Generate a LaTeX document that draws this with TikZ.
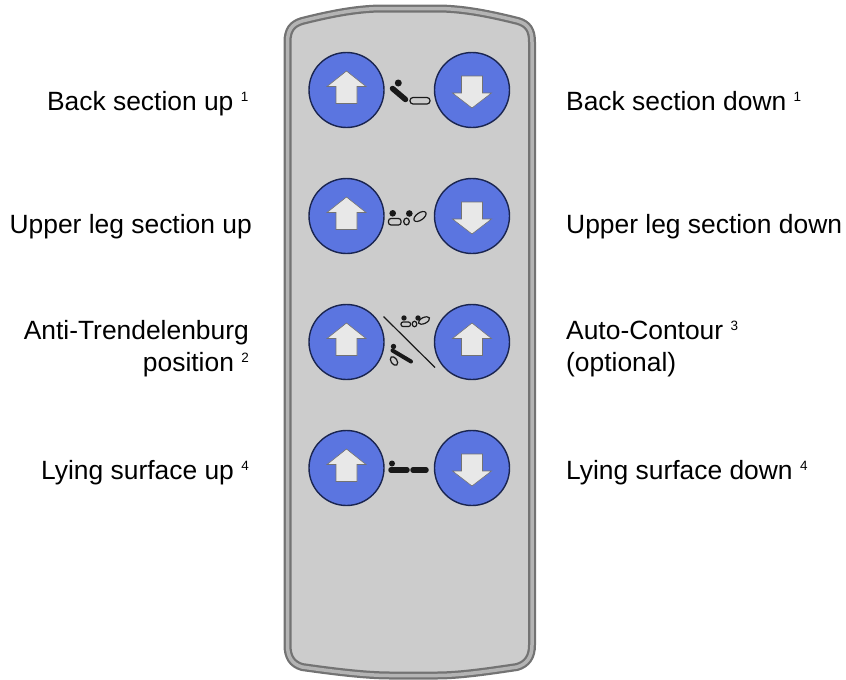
\documentclass[tikz,border=0pt]{standalone}
\usepackage{fontspec}
\setmainfont{Liberation Sans}
\definecolor{shellbody}{HTML}{CCCCCC}
\definecolor{shelldark}{HTML}{737373}
\definecolor{shelllight}{HTML}{B4B4B4}
\definecolor{knobblue}{HTML}{5B75E0}
\definecolor{knobedge}{HTML}{1A2550}
\definecolor{arrowfill}{HTML}{E8E8E8}
\tikzset{
  knob/.style={circle, draw=knobedge, fill=knobblue, line width=1.4pt, minimum size=75pt, inner sep=0pt},
  arrowhead/.style={fill=arrowfill, draw=black!55, line width=0.6pt},
  tag/.style={font=\fontsize{26.4pt}{31.8pt}\selectfont, text=black, inner sep=0pt},
  iconbar/.style={line width=5.5pt, line cap=round, black!90},
  iconring/.style={draw=black!90, fill=shellbody, line width=1.2pt},
}
\newcommand{\notemark}[1]{\raisebox{9pt}{\fontsize{13.5pt}{13.5pt}\selectfont #1}}
\newcommand{\shellpath}{(287.5,42) .. controls (287.5,30) and (292,24) .. (302,21)
  .. controls (330,14) and (355,9) .. (380,8.5) -- (440,8.5)
  .. controls (465,9) and (490,14) .. (518,21)
  .. controls (528,24) and (532,30) .. (532,42)
  -- (532,645) .. controls (532,657) and (527,664) .. (517,667)
  .. controls (490,671) and (460,675.5) .. (437,675.5) -- (390,675.5)
  .. controls (365,675.5) and (330,671) .. (302,667)
  .. controls (292,664) and (287.5,657) .. (287.5,645) -- cycle}
\begin{document}
\begin{tikzpicture}[x=1pt,y=-1pt]
    \useasboundingbox (0,0) rectangle (846,680);

    % Housing
    \draw[shelldark, line width=8pt, fill=shellbody] \shellpath;
    \draw[shelllight, line width=3.5pt] \shellpath;

    % Buttons, one row per function
    \foreach \rowname/\rowy in {back/90, leg/216, tilt/342, lift/468} {
        \node[knob] (\rowname left) at (346.5,\rowy) {};
        \node[knob] (\rowname right) at (472,\rowy) {};
        \draw[arrowhead, shift={(346.5,\rowy)}] (0,-19) -- (19.5,-3.5) -- (10.5,-3.5) -- (10.5,13.5) -- (-10.5,13.5) -- (-10.5,-3.5) -- (-19.5,-3.5) -- cycle;
    }

    % Right column arrows
    \foreach \rowy in {90, 216, 468} {
        \draw[arrowhead, shift={(472,\rowy)}] (0,18) -- (19.5,3) -- (10.5,3) -- (10.5,-14) -- (-10.5,-14) -- (-10.5,3) -- (-19.5,3) -- cycle;
    }
    \draw[arrowhead, shift={(472,342)}] (0,-19) -- (19.5,-3.5) -- (10.5,-3.5) -- (10.5,13.5) -- (-10.5,13.5) -- (-10.5,-3.5) -- (-19.5,-3.5) -- cycle;

    % Icon, back section
    \fill[black!90] (398.3,83) circle (3.5);
    \draw[iconbar] (392.5,88.5) -- (405.5,99.5);
    \draw[iconring, rounded corners=3pt] (410,97.5) rectangle (430,104);

    % Icon, upper leg section
    \fill[black!90] (392.7,213.3) circle (3.3);
    \fill[black!90] (409.3,213.5) circle (3.3);
    \draw[iconring, rounded corners=2.5pt] (388.5,218.5) rectangle (401,225);
    \draw[iconring] (406.5,221.5) ellipse (2.8 and 3.4);
    \draw[iconring, rotate around={35:(420,216.5)}] (420,216.5) ellipse (7 and 3.6);

    % Icon, auto contour above the line
    \fill[black!90] (404,318) circle (2.7);
    \fill[black!90] (418,318) circle (2.7);
    \draw[iconring, rounded corners=2pt] (401,322) rectangle (410.5,326.5);
    \draw[iconring] (414.5,324) ellipse (2.3 and 2.8);
    \draw[iconring, rotate around={25:(424,320.5)}] (424,320.5) ellipse (6 and 3);

    % Dividing line
    \draw[black!90, line width=1.2pt] (383.5,316.5) -- (435,367.5);

    % Icon, anti-Trendelenburg below the line
    \fill[black!90] (393.5,346.5) circle (2.7);
    \draw[iconbar, line width=4pt] (392.5,350.5) -- (411,361.5);
    \draw[iconring, rotate around={-55:(394,361)}] (394,361) ellipse (4.8 and 3);

    % Icon, lying surface
    \fill[black!90] (392,463.5) circle (3);
    \draw[iconbar] (391,470) -- (407,470);
    \draw[iconbar] (413,470) -- (426,470);

    % Left labels
    \node[tag, anchor=base east] (backuptag) at (248.5,110.7) {Back section up \notemark{1}};
    \node[tag, anchor=base east] (leguptag) at (252,233) {Upper leg section up};
    \node[tag, anchor=base east, align=right] (tilttag) at (249,371.7) {Anti-Trendelenburg\\position \notemark{2}};
    \node[tag, anchor=base east] (liftuptag) at (249,479) {Lying surface up \notemark{4}};

    % Right labels
    \node[tag, anchor=base west] (backdowntag) at (566,110.7) {Back section down \notemark{1}};
    \node[tag, anchor=base west] (legdowntag) at (566,233) {Upper leg section down};
    \node[tag, anchor=base west, align=left] (contourtag) at (566,371.7) {Auto-Contour \notemark{3}\\(optional)};
    \node[tag, anchor=base west] (liftdowntag) at (566,479) {Lying surface down \notemark{4}};

\end{tikzpicture}
\end{document}
